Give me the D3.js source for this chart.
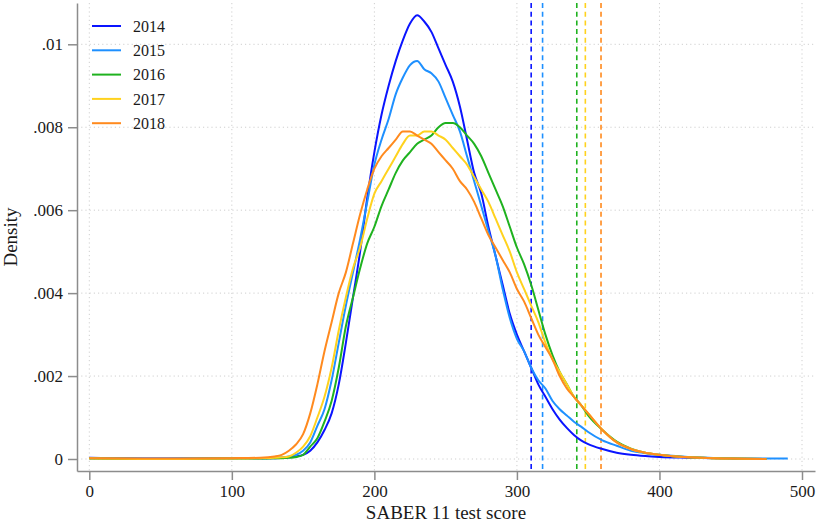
<!DOCTYPE html>
<html><head><meta charset="utf-8">
<script src="https://cdn.jsdelivr.net/npm/d3@7"></script>
<style>body{margin:0;background:#fff}svg{display:block}</style>
</head><body><svg id="c" width="816" height="524"></svg>
<script>
const years = ["2014","2015","2016","2017","2018"];
const colors = ["#0a14ff","#1e90ff","#1fb21f","#ffd21e","#ff8a1e"];
const means = [310, 318, 342, 348, 359];
const scores = [0,50,100,120,130,
 135,140,145,150,155,160,165,170,175,180,185,190,195,200,205,210,215,220,225,230,235,240,245,250,255,260,265,270,275,280,285,290,295,300,305,310,315,320,325,330,335,340,345,350,
 360,370,380,390,400,420,450,475,490];
const d2014 = [0.00003,0.00001,0.00002,0.00002,0.00002,
 0.00003,0.00004,0.00006,0.0001,0.0002,0.0004,0.0007,0.0011,0.0018,0.0028,0.0039,0.0050,0.0063,0.0074,0.0083,0.0090,0.0096,0.0101,0.0105,0.0107,0.01055,0.0103,0.0099,0.0095,0.0091,0.0085,0.0077,0.0069,0.0064,0.0056,0.0049,0.0042,0.0035,0.0030,0.0026,0.0022,0.0018,0.0015,0.0012,0.00095,0.00075,0.00058,0.00045,0.00036,
 0.00024,0.00015,0.0001,0.00007,0.00005,0.00003,0.00001,0,null];
const d2015 = [0.00002,0.00001,0.00002,0.00002,0.00003,
 0.00004,0.00006,0.0001,0.0002,0.0004,0.0008,0.0012,0.0019,0.0028,0.0037,0.0045,0.0053,0.0062,0.0071,0.0077,0.0082,0.0088,0.0092,0.0095,0.0096,0.0094,0.0093,0.0091,0.0087,0.0083,0.0079,0.0073,0.0067,0.0061,0.0055,0.0049,0.0041,0.0034,0.0029,0.0026,0.0022,0.0019,0.0017,0.0014,0.0012,0.00105,0.0009,0.00078,0.00065,
 0.00045,0.00032,0.0002,0.00014,0.0001,0.00005,0.00002,0.00001,0.00001];
const d2016 = [0.00001,0,0.00001,0.00001,0.00002,
 0.00002,0.00003,0.00005,0.0001,0.0003,0.0005,0.0009,0.0014,0.0022,0.0032,0.0039,0.0046,0.0052,0.0056,0.0061,0.0065,0.0069,0.0072,0.0074,0.0076,0.0077,0.0078,0.0080,0.0081,0.0081,0.0080,0.0078,0.0076,0.0073,0.0069,0.0065,0.0061,0.0056,0.0051,0.0047,0.0042,0.0036,0.0030,0.0025,0.0021,0.0018,0.0015,0.0013,0.00105,
 0.0007,0.00042,0.00025,0.00015,0.0001,0.00004,0.00001,0,null];
const d2017 = [0.00002,0,0.00001,0.00002,0.00003,
 0.00004,0.00006,0.00015,0.0003,0.00055,0.001,0.0015,0.0022,0.0031,0.0039,0.0046,0.0051,0.0058,0.0064,0.0067,0.0070,0.0073,0.0076,0.0078,0.0078,0.0079,0.0079,0.0078,0.0077,0.0075,0.0073,0.0071,0.0068,0.0065,0.0062,0.0058,0.0054,0.0050,0.0045,0.0041,0.0037,0.0033,0.0028,0.0024,0.0021,0.0018,0.0015,0.0013,0.0011,
 0.0007,0.0004,0.00024,0.00015,0.0001,0.00004,0.00001,0,null];
const d2018 = [0.00002,0.00001,0.00002,0.00003,0.00006,
 0.0001,0.0002,0.00035,0.0006,0.0011,0.0018,0.0026,0.0033,0.0040,0.0045,0.0052,0.0059,0.0065,0.0070,0.0073,0.0075,0.0077,0.0079,0.0079,0.0078,0.0077,0.0076,0.0074,0.0072,0.0070,0.0067,0.0065,0.0062,0.0058,0.0054,0.0051,0.0048,0.0045,0.0041,0.0038,0.0034,0.0030,0.0027,0.0024,0.0020,0.0017,0.0015,0.0013,0.0011,
 0.0007,0.0004,0.00024,0.00015,0.0001,0.00004,0.00001,0,null];
const series = [d2014,d2015,d2016,d2017,d2018];
const xTicks = [0,100,200,300,400,500];
const yTicks = [0,0.002,0.004,0.006,0.008,0.01];

const svg = d3.select("#c");
const font = "'Liberation Serif','Times New Roman',serif";
const L = 77, R = 815, T = 3, B = 471;
const x0 = d3.scaleLinear().domain([0,500]).range([89.3,802]);
const x = d3.scaleLinear().domain([x0.invert(L), x0.invert(R)]).range([L,R]);
const y0 = d3.scaleLinear().domain([0,0.01]).range([459,44.3]);
const y = d3.scaleLinear().domain([y0.invert(B), y0.invert(T)]).range([B,T]);

// grid
const grid = svg.append("g").attr("stroke","#cfcfcf").attr("stroke-width",1).attr("stroke-dasharray","1.2,3");
yTicks.forEach(t=>grid.append("line").attr("x1",L).attr("x2",R).attr("y1",y(t)).attr("y2",y(t)));
xTicks.forEach(t=>grid.append("line").attr("x1",x(t)).attr("x2",x(t)).attr("y1",T).attr("y2",B));

// axes
const fmt = d => d===0 ? "0" : d3.format(".3~f")(d).replace(/^0/,"");
const ax = svg.append("g").attr("transform",`translate(0,${B})`)
  .call(d3.axisBottom(x).tickValues(xTicks).tickSize(9).tickPadding(5).tickSizeOuter(0));
const ay = svg.append("g").attr("transform",`translate(${L},0)`)
  .call(d3.axisLeft(y).tickValues(yTicks).tickFormat(fmt).tickSize(9).tickPadding(5).tickSizeOuter(0));
[ax,ay].forEach(a=>{
  a.selectAll("path,line").attr("stroke","#8c8c8c").attr("stroke-width",1.5);
  a.selectAll("text").attr("font-family",font).attr("font-size",17).attr("fill","#1a1a1a");
});

// mean lines
means.forEach((m,i)=>{
  svg.append("line").attr("x1",x(m)).attr("x2",x(m)).attr("y1",T).attr("y2",B)
    .attr("stroke",colors[i]).attr("stroke-width",1.6).attr("stroke-dasharray","5,3.7");
});

// curves
const line = d3.line().defined(d=>d[1]!==null).x(d=>x(d[0])).y(d=>y(d[1])).curve(d3.curveMonotoneX);
series.forEach((s,i)=>{
  const pts = scores.map((sc,j)=>[sc,s[j]]);
  svg.append("path").attr("d",line(pts)).attr("fill","none").attr("stroke",colors[i]).attr("stroke-width",2);
});

// legend
years.forEach((yr,i)=>{
  const cy = 26 + i*24.3;
  svg.append("line").attr("x1",92).attr("x2",121).attr("y1",cy).attr("y2",cy).attr("stroke",colors[i]).attr("stroke-width",2);
  svg.append("text").attr("x",133).attr("y",cy).attr("dy","0.35em").attr("font-family",font).attr("font-size",16).attr("fill","#1a1a1a").text(yr);
});

// titles
svg.append("text").attr("x",(L+R)/2).attr("y",519).attr("text-anchor","middle").attr("font-family",font).attr("font-size",19).attr("fill","#1a1a1a").text("SABER 11 test score");
svg.append("text").attr("transform","translate(17,237) rotate(-90)").attr("text-anchor","middle").attr("font-family",font).attr("font-size",19).attr("fill","#1a1a1a").text("Density");
</script></body></html>
